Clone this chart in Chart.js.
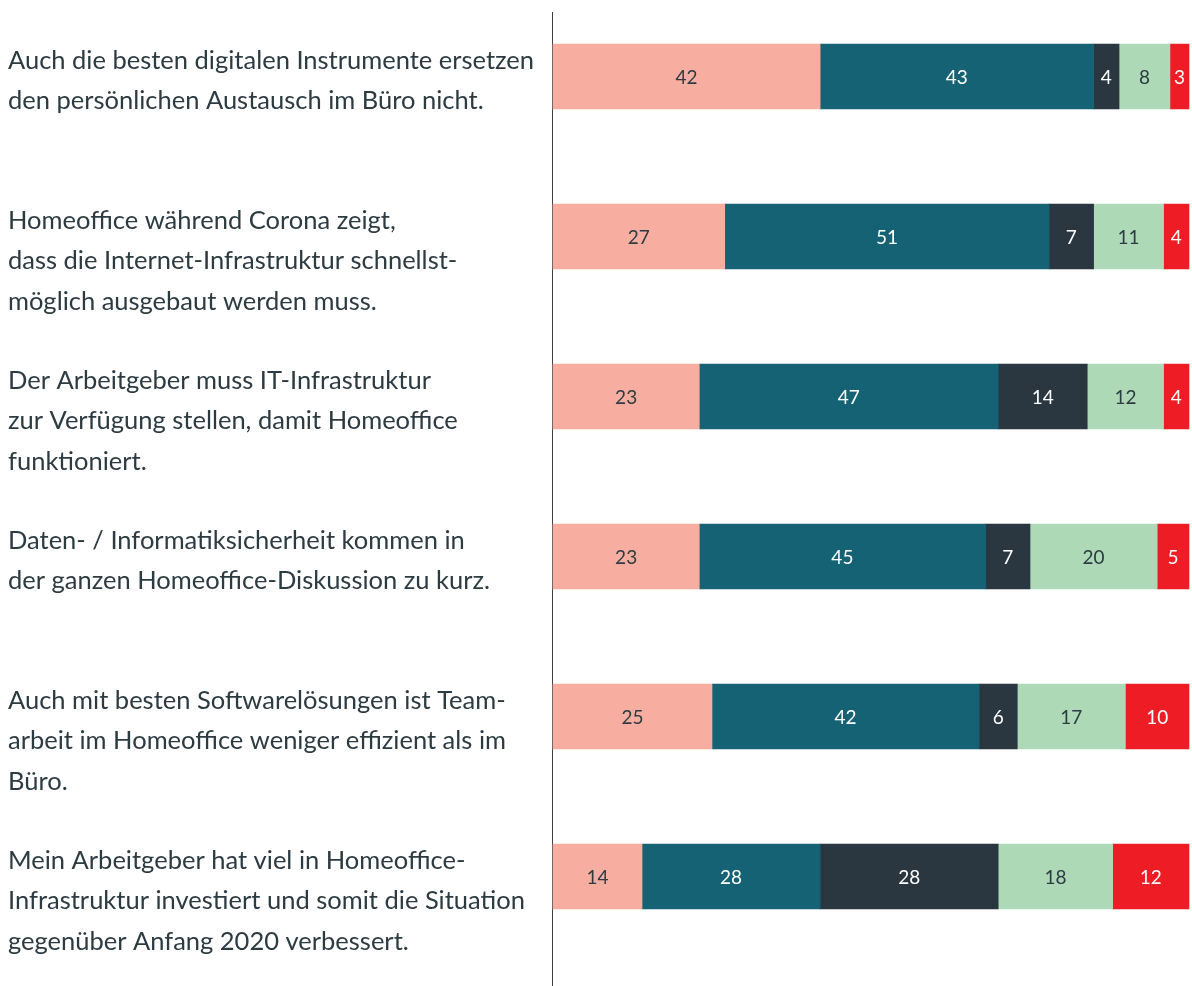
<!DOCTYPE html>
<html lang="de">
<head>
<meta charset="utf-8">
<script src="https://cdn.jsdelivr.net/npm/chart.js@4"></script>
<style>
  html, body { margin: 0; padding: 0; background: #ffffff; }
  #wrap { width: 1192px; height: 986px; position: relative; }
</style>
</head>
<body>
<div id="wrap"><canvas id="homeofficeChart"></canvas></div>
<script>
// Aussagen (mehrzeilig, wie gesetzt)
var statements = [
    ['Auch die besten digitalen Instrumente ersetzen', 'den persönlichen Austausch im Büro nicht.'],
    ['Homeoffice während Corona zeigt,', 'dass die Internet-Infrastruktur schnellst-', 'möglich ausgebaut werden muss.'],
    ['Der Arbeitgeber muss IT-Infrastruktur', 'zur Verfügung stellen, damit Homeoffice', 'funktioniert.'],
    ['Daten- / Informatiksicherheit kommen in', 'der ganzen Homeoffice-Diskussion zu kurz.'],
    ['Auch mit besten Softwarelösungen ist Team-', 'arbeit im Homeoffice weniger effizient als im', 'Büro.'],
    ['Mein Arbeitgeber hat viel in Homeoffice-', 'Infrastruktur investiert und somit die Situation', 'gegenüber Anfang 2020 verbessert.']
];

// Antworten in Prozent
var stimmeVoll = [42, 27, 23, 23, 25, 14];
var stimmeEher = [43, 51, 47, 45, 42, 28];
var weissNicht = [4, 7, 14, 7, 6, 28];
var eherNicht = [8, 11, 12, 20, 17, 18];
var garNicht = [3, 4, 4, 5, 10, 12];

var textDark = '#2c3a42';

function series(label, data, color, textColor) {
    return {
        label: label,
        data: data,
        backgroundColor: color,
        borderWidth: 0,
        barThickness: 65,
        clip: false,
        labelColor: textColor
    };
}

// Linke Aussagen-Spalte und Trennlinie
var sideLabels = {
    id: 'sideLabels',
    beforeDatasetsDraw: function (chart) {
        var ctx = chart.ctx;
        var yScale = chart.scales.y;
        var left = chart.chartArea.left;
        ctx.save();
        ctx.strokeStyle = '#3a3f44';
        ctx.lineWidth = 1;
        ctx.beginPath();
        ctx.moveTo(left - 0.5, 12);
        ctx.lineTo(left - 0.5, chart.height);
        ctx.stroke();

        ctx.fillStyle = textDark;
        ctx.font = '25.5px Lato';
        ctx.textAlign = 'left';
        ctx.textBaseline = 'middle';
        statements.forEach(function (lines, i) {
            var y0 = yScale.getPixelForValue(i) - 16;
            lines.forEach(function (line, j) {
                ctx.fillText(line, 8, y0 + j * 40.5);
            });
        });
        ctx.restore();
    }
};

// Werte mittig in die Segmente schreiben
var segmentValues = {
    id: 'segmentValues',
    afterDatasetsDraw: function (chart) {
        var ctx = chart.ctx;
        ctx.save();
        ctx.font = '19px Lato';
        ctx.textAlign = 'center';
        ctx.textBaseline = 'middle';
        chart.data.datasets.forEach(function (ds, di) {
            chart.getDatasetMeta(di).data.forEach(function (bar, i) {
                var p = bar.getProps(['x', 'y', 'base'], true);
                ctx.fillStyle = ds.labelColor;
                ctx.fillText(String(ds.data[i]), (p.x + p.base) / 2, p.y + 1);
            });
        });
        ctx.restore();
    }
};

var ctx = document.getElementById('homeofficeChart').getContext('2d');
var chart = new Chart(ctx, {
    type: 'bar',
    data: {
        labels: statements,
        datasets: [
            series('Stimme voll zu', stimmeVoll, '#f7aea0', textDark),
            series('Stimme eher zu', stimmeEher, '#156275', '#ffffff'),
            series('Weiß nicht', weissNicht, '#2b3740', '#ffffff'),
            series('Stimme eher nicht zu', eherNicht, '#add9b7', textDark),
            series('Stimme gar nicht zu', garNicht, '#ee1d25', '#ffffff')
        ]
    },
    options: {
        indexAxis: 'y',
        responsive: true,
        maintainAspectRatio: false,
        animation: false,
        layout: {
            padding: { top: 76.5, bottom: 109.5, left: 553, right: 3 }
        },
        plugins: {
            legend: { display: false },
            tooltip: { enabled: false }
        },
        scales: {
            x: {
                stacked: true,
                min: 0,
                max: 100,
                display: false
            },
            y: {
                stacked: true,
                offset: false,
                display: false
            }
        }
    },
    plugins: [sideLabels, segmentValues]
});
</script>
</body>
</html>
